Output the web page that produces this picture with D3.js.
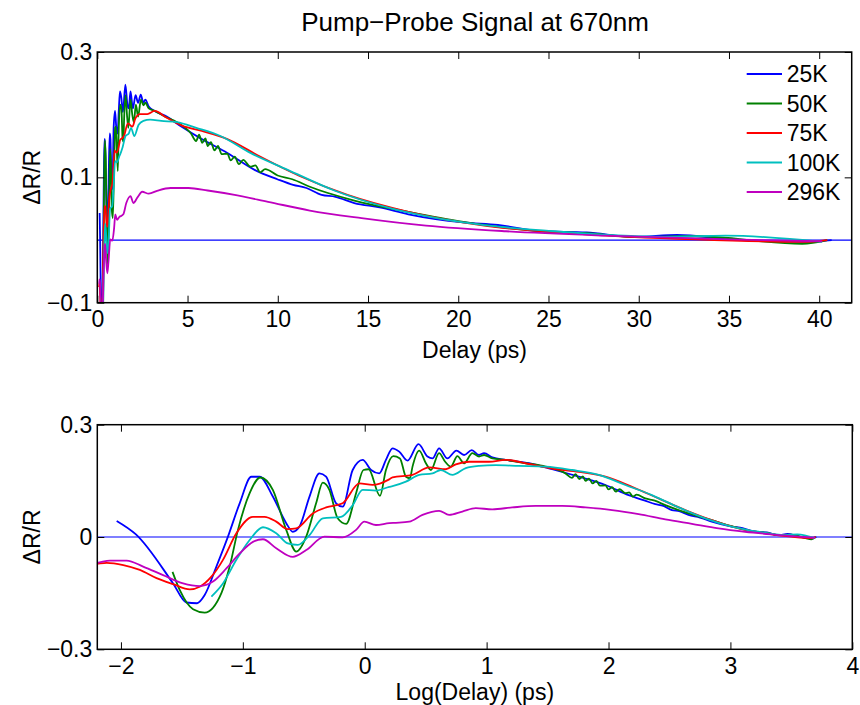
<!DOCTYPE html>
<html>
<head>
<meta charset="utf-8">
<script src="https://cdn.jsdelivr.net/npm/d3@7"></script>
<style>
  body { margin: 0; background: #fff; }
  text { font-family: "Liberation Sans", Arial, Helvetica, sans-serif; fill: #000; }
</style>
</head>
<body>
<svg id="chart" width="860" height="705"></svg>
<script>
  // series labels and colours (MATLAB default order)
  var temps = ['25K', '50K', '75K', '100K', '296K'];
  var colors = ['#0000ff', '#008000', '#ff0000', '#00bfbf', '#bf00bf'];

  // ln(delay / ps) and dR/R, one pair per temperature
  var lnDelay25 = [-2.035, -1.877, -1.572, -1.463, -1.376, -1.313, -1.217, -1.122, -1.026, -0.93, -0.862, -0.754, -0.644, -0.59, -0.535, -0.453, -0.372, -0.317, -0.235, -0.181, -0.099, -0.017, 0.052, 0.119, 0.174, 0.228, 0.283, 0.351, 0.441, 0.515, 0.556, 0.61, 0.678, 0.752, 0.815, 0.878, 0.938, 0.979, 1.047, 1.156, 1.347, 1.538, 1.756, 1.975, 2.165, 2.3, 2.384, 2.45, 2.52, 2.58, 2.656, 2.75, 2.847, 3.01, 3.1, 3.202, 3.3, 3.393, 3.47, 3.556, 3.665, 3.706];
  var signal25 = [0.043, 0.007, -0.124, -0.175, -0.177, -0.155, -0.079, 0.001, 0.09, 0.161, 0.161, 0.108, 0.037, 0.014, 0.028, 0.108, 0.17, 0.161, 0.09, 0.081, 0.179, 0.206, 0.179, 0.17, 0.206, 0.237, 0.228, 0.204, 0.248, 0.215, 0.21, 0.237, 0.21, 0.231, 0.219, 0.232, 0.219, 0.224, 0.213, 0.206, 0.197, 0.181, 0.161, 0.139, 0.112, 0.097, 0.088, 0.083, 0.072, 0.069, 0.059, 0.052, 0.041, 0.028, 0.024, 0.014, 0.012, 0.005, 0.008, 0.001, -0.003, 0.0];

  var lnDelay50 = [-1.577, -1.517, -1.408, -1.313, -1.176, -1.108, -1.04, -0.944, -0.857, -0.754, -0.644, -0.562, -0.48, -0.399, -0.344, -0.29, -0.222, -0.153, -0.071, -0.011, 0.032, 0.125, 0.174, 0.234, 0.289, 0.338, 0.371, 0.392, 0.447, 0.502, 0.543, 0.61, 0.66, 0.706, 0.76, 0.815, 0.883, 0.938, 0.979, 1.047, 1.156, 1.32, 1.484, 1.647, 1.7, 1.73, 1.76, 1.79, 1.811, 1.84, 1.87, 1.9, 1.93, 1.975, 2.0, 2.03, 2.06, 2.09, 2.138, 2.17, 2.2, 2.23, 2.302, 2.38, 2.466, 2.656, 2.847, 3.01, 3.202, 3.3, 3.393, 3.5, 3.665, 3.7];
  var signal50 = [-0.093, -0.142, -0.193, -0.202, -0.15, -0.079, 0.019, 0.117, 0.159, 0.126, 0.019, -0.039, 0.001, 0.09, 0.145, 0.126, 0.05, 0.035, 0.117, 0.179, 0.181, 0.11, 0.179, 0.216, 0.21, 0.161, 0.157, 0.188, 0.231, 0.197, 0.179, 0.224, 0.201, 0.188, 0.216, 0.197, 0.224, 0.215, 0.219, 0.21, 0.206, 0.197, 0.188, 0.17, 0.158, 0.168, 0.155, 0.162, 0.15, 0.156, 0.143, 0.15, 0.137, 0.138, 0.127, 0.133, 0.121, 0.128, 0.117, 0.119, 0.108, 0.113, 0.103, 0.097, 0.085, 0.063, 0.045, 0.029, 0.014, 0.011, 0.005, 0.006, -0.006, 0.0];

  var lnDelay75 = [-2.3, -2.199, -2.117, -1.981, -1.845, -1.708, -1.572, -1.435, -1.354, -1.258, -1.163, -1.053, -0.917, -0.822, -0.726, -0.631, -0.562, -0.426, -0.317, -0.181, -0.044, 0.065, 0.201, 0.228, 0.392, 0.529, 0.665, 0.747, 0.856, 1.02, 1.156, 1.347, 1.538, 1.756, 1.975, 2.193, 2.411, 2.629, 2.847, 3.065, 3.283, 3.5, 3.665, 3.7];
  var signal75 = [-0.075, -0.072, -0.069, -0.075, -0.088, -0.11, -0.126, -0.14, -0.133, -0.106, -0.061, 0.01, 0.054, 0.054, 0.041, 0.021, 0.023, 0.063, 0.079, 0.09, 0.143, 0.139, 0.154, 0.159, 0.166, 0.186, 0.181, 0.194, 0.201, 0.201, 0.206, 0.195, 0.183, 0.174, 0.161, 0.134, 0.103, 0.072, 0.045, 0.023, 0.01, 0.001, -0.003, 0.0];

  var lnDelay100 = [-1.258, -1.163, -1.053, -0.944, -0.835, -0.726, -0.631, -0.549, -0.453, -0.344, -0.194, -0.099, -0.017, 0.092, 0.201, 0.228, 0.338, 0.447, 0.556, 0.624, 0.719, 0.829, 0.938, 1.074, 1.265, 1.484, 1.702, 1.92, 2.138, 2.356, 2.575, 2.793, 3.01, 3.229, 3.447, 3.55, 3.693];
  var signal100 = [-0.159, -0.124, -0.061, -0.008, 0.026, 0.01, -0.017, -0.021, 0.005, 0.05, 0.054, 0.085, 0.126, 0.124, 0.134, 0.136, 0.148, 0.166, 0.17, 0.179, 0.166, 0.184, 0.19, 0.192, 0.19, 0.188, 0.179, 0.166, 0.139, 0.112, 0.079, 0.05, 0.028, 0.014, 0.005, 0.007, -0.003];

  var lnDelay296 = [-2.3, -2.199, -2.09, -1.953, -1.818, -1.654, -1.49, -1.354, -1.245, -1.135, -1.026, -0.917, -0.835, -0.726, -0.59, -0.48, -0.33, -0.181, -0.071, -0.003, 0.092, 0.201, 0.256, 0.365, 0.474, 0.61, 0.692, 0.801, 0.911, 1.047, 1.21, 1.402, 1.62, 1.811, 2.029, 2.247, 2.466, 2.684, 2.902, 3.12, 3.338, 3.556, 3.693];
  var signal296 = [-0.07, -0.069, -0.063, -0.063, -0.079, -0.102, -0.124, -0.131, -0.119, -0.084, -0.044, -0.013, -0.006, -0.03, -0.053, -0.035, 0.001, -0.001, 0.019, 0.041, 0.032, 0.037, 0.038, 0.041, 0.059, 0.07, 0.059, 0.068, 0.077, 0.074, 0.079, 0.083, 0.083, 0.079, 0.072, 0.061, 0.047, 0.035, 0.023, 0.014, 0.007, 0.001, -0.002];

  var delayTicks = [0, 5, 10, 15, 20, 25, 30, 35, 40];
  var logDelayTicks = [-2, -1, 0, 1, 2, 3, 4];
  var topYTicks = [-0.1, 0.1, 0.3];
  var bottomYTicks = [-0.3, 0, 0.3];

  var lnDelays = [lnDelay25, lnDelay50, lnDelay75, lnDelay100, lnDelay296];
  var signals = [signal25, signal50, signal75, signal100, signal296];

  var curves = temps.map(function(t, i) {
    return {
      name: t,
      color: colors[i],
      points: lnDelays[i].map(function(x, j) { return { ln: x, delay: Math.exp(x), v: signals[i][j] }; })
    };
  });

  var svg = d3.select('#chart');
  var fontSize = 23;

  svg.append('text')
    .attr('x', 475)
    .attr('y', 31)
    .attr('text-anchor', 'middle')
    .style('font-size', '26px')
    .text('Pump\u2212Probe Signal at 670nm');

  function yFormat(d) { return d === 0 ? '0' : d3.format('.1f')(d); }

  function drawPanel(opts) {
    var x = opts.x, y = opts.y;
    var x0 = x.range()[0], x1 = x.range()[1];
    var y0 = y.range()[1], y1 = y.range()[0];
    var g = svg.append('g');

    var clipId = 'clip-' + opts.id;
    svg.append('clipPath').attr('id', clipId)
      .append('rect')
      .attr('x', x0).attr('y', y0)
      .attr('width', x1 - x0).attr('height', y1 - y0);

    var plot = g.append('g').attr('clip-path', 'url(#' + clipId + ')');

    plot.append('line')
      .attr('x1', x0).attr('x2', x1)
      .attr('y1', y(0)).attr('y2', y(0))
      .attr('stroke', '#0000ff')
      .attr('stroke-width', 1.2);

    var line = d3.line()
      .curve(d3.curveMonotoneX)
      .x(function(d) { return x(opts.xValue(d)); })
      .y(function(d) { return y(d.v); });

    plot.selectAll('path.curve')
      .data(curves)
      .enter().append('path')
      .attr('class', 'curve')
      .attr('fill', 'none')
      .attr('stroke', function(d) { return d.color; })
      .attr('stroke-width', 1.8)
      .attr('stroke-linejoin', 'round')
      .attr('d', function(d) { return line(d.points); });

    var tick = 7;
    var axes = [
      { axis: d3.axisBottom(x).tickValues(opts.xTicks).tickSize(-tick).tickPadding(8).tickFormat(d3.format('d')), t: 'translate(0,' + y1 + ')' },
      { axis: d3.axisTop(x).tickValues(opts.xTicks).tickSize(-tick).tickFormat(''), t: 'translate(0,' + y0 + ')' },
      { axis: d3.axisLeft(y).tickValues(opts.yTicks).tickSize(-tick).tickPadding(5).tickFormat(yFormat), t: 'translate(' + x0 + ',0)' },
      { axis: d3.axisRight(y).tickValues(opts.yTicks).tickSize(-tick).tickFormat(''), t: 'translate(' + x1 + ',0)' }
    ];
    axes.forEach(function(a) {
      var ag = g.append('g').attr('transform', a.t).call(a.axis);
      ag.select('.domain').remove();
      ag.selectAll('line').attr('stroke', '#000').attr('stroke-width', 1);
      ag.selectAll('text').style('font-size', fontSize + 'px').attr('font-family', null).attr('fill', '#000');
    });

    g.append('rect')
      .attr('x', x0).attr('y', y0)
      .attr('width', x1 - x0).attr('height', y1 - y0)
      .attr('fill', 'none')
      .attr('stroke', '#000')
      .attr('stroke-width', 1.5);

    g.append('text')
      .attr('x', (x0 + x1) / 2)
      .attr('y', opts.xLabelY)
      .attr('text-anchor', 'middle')
      .style('font-size', fontSize + 'px')
      .text(opts.xLabel);

    g.append('text')
      .attr('transform', 'translate(40,' + ((y0 + y1) / 2) + ') rotate(-90)')
      .attr('text-anchor', 'middle')
      .style('font-size', fontSize + 'px')
      .text('\u0394R/R');

    return g;
  }

  var topPanel = drawPanel({
    id: 'top',
    x: d3.scaleLinear().domain([0, 41.8]).range([97.3, 851.7]),
    y: d3.scaleLinear().domain([-0.1, 0.3]).range([302.7, 52]),
    xValue: function(d) { return d.delay; },
    xTicks: delayTicks,
    yTicks: topYTicks,
    xLabel: 'Delay (ps)',
    xLabelY: 358
  });

  drawPanel({
    id: 'bottom',
    x: d3.scaleLinear().domain([-2.194, 4]).range([97.3, 852.3]),
    y: d3.scaleLinear().domain([-0.3, 0.3]).range([649.3, 424.7]),
    xValue: function(d) { return d.ln; },
    xTicks: logDelayTicks,
    yTicks: bottomYTicks,
    xLabel: 'Log(Delay) (ps)',
    xLabelY: 700
  });

  // legend, no box
  var legend = topPanel.append('g').attr('class', 'legend');
  var item = legend.selectAll('g')
    .data(curves)
    .enter().append('g')
    .attr('transform', function(d, i) { return 'translate(746.7,' + (74 + i * 29.5) + ')'; });
  item.append('line')
    .attr('x1', 0).attr('x2', 35.3)
    .attr('stroke', function(d) { return d.color; })
    .attr('stroke-width', 1.8);
  item.append('text')
    .attr('x', 40)
    .attr('dy', '0.35em')
    .style('font-size', fontSize + 'px')
    .text(function(d) { return d.name; });
</script>
</body>
</html>
